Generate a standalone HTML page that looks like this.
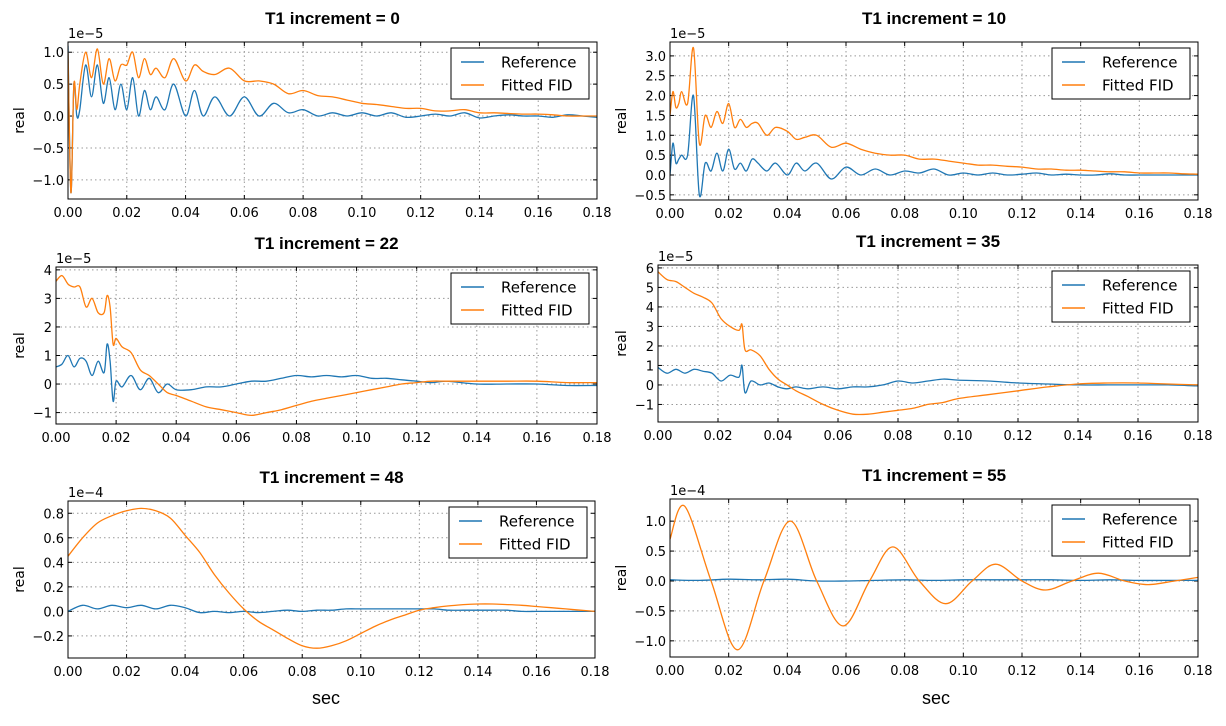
<!DOCTYPE html>
<html><head><meta charset="utf-8">
<style>
html,body{margin:0;padding:0;background:#fff;}
svg{display:block;font-family:"Liberation Sans","DejaVu Sans",sans-serif;}
.tk{font-family:"DejaVu Sans","Liberation Sans",sans-serif;}
</style></head>
<body>
<svg id="fig" width="1226" height="726" viewBox="0 0 1226 726" xmlns="http://www.w3.org/2000/svg">
<text x="326" y="704" font-size="18" text-anchor="middle" fill="#000">sec</text>
<text x="936" y="704" font-size="18" text-anchor="middle" fill="#000">sec</text>
</svg>
<script>
// ---- data (values in units of the panel's exponent) ----
const xTicks = [0,0.02,0.04,0.06,0.08,0.10,0.12,0.14,0.16,0.18];
const xTickLabels = ["0.00","0.02","0.04","0.06","0.08","0.10","0.12","0.14","0.16","0.18"];

const p0X = [0,0.001,0.002,0.003,0.004,0.006,0.008,0.010,0.012,0.014,0.016,0.018,0.020,0.022,0.024,0.026,0.028,0.030,0.033,0.036,0.040,0.043,0.046,0.050,0.055,0.060,0.065,0.070,0.075,0.080,0.085,0.090,0.095,0.100,0.105,0.110,0.115,0.120,0.125,0.130,0.135,0.140,0.145,0.150,0.155,0.160,0.165,0.170,0.175,0.180];
const p0Ref = [1.1,-1.2,0.5,0.0,0.1,0.8,0.3,0.8,0.2,0.6,0.1,0.5,0.1,0.6,0.0,0.4,0.1,0.3,0.1,0.5,0.0,0.4,0.0,0.3,0.0,0.3,0.0,0.2,0.05,0.1,0.0,0.05,0.0,0.05,0.0,0.05,-0.02,0.0,0.03,0.0,0.05,-0.03,0.0,0.02,0.0,0.0,-0.02,0.02,0.0,-0.02];
const p0Fit = [1.0,-1.2,0.5,0.1,0.5,1.0,0.6,1.05,0.5,0.9,0.55,0.8,0.8,1.0,0.6,0.9,0.65,0.75,0.6,0.9,0.55,0.8,0.7,0.65,0.75,0.55,0.55,0.5,0.35,0.4,0.32,0.3,0.25,0.2,0.18,0.15,0.12,0.12,0.08,0.08,0.1,0.05,0.05,0.04,0.03,0.03,0.02,0.0,0.0,0.0];
const p0YTicks = [-1.0,-0.5,0.0,0.5,1.0];

const p1X = p0X;
const p1Ref = [0.0,0.8,0.3,0.4,0.5,0.5,2.0,-0.5,0.3,0.1,0.55,0.1,0.65,0.15,0.3,0.1,0.4,0.3,0.1,0.3,0.0,0.3,0.1,0.3,-0.1,0.2,0.0,0.15,0.0,0.1,0.05,0.15,0.0,0.05,0.0,0.05,0.0,0.02,0.05,0.0,0.02,0.0,0.0,0.03,0.0,0.0,0.0,0.0,0.0,0.0];
const p1Fit = [1.5,2.1,1.7,1.8,2.1,1.8,3.2,0.8,1.5,1.2,1.6,1.3,1.8,1.2,1.4,1.2,1.3,1.3,1.0,1.2,1.1,0.9,0.95,1.0,0.7,0.8,0.65,0.55,0.5,0.5,0.4,0.4,0.35,0.3,0.25,0.25,0.22,0.2,0.15,0.15,0.12,0.12,0.1,0.08,0.08,0.05,0.05,0.05,0.03,0.02];
const p1YTicks = [-0.5,0.0,0.5,1.0,1.5,2.0,2.5,3.0];

const p2X = [0,0.002,0.004,0.006,0.008,0.010,0.012,0.014,0.016,0.017,0.018,0.019,0.020,0.022,0.025,0.028,0.031,0.034,0.037,0.040,0.045,0.050,0.055,0.060,0.065,0.070,0.075,0.080,0.085,0.090,0.095,0.100,0.105,0.110,0.115,0.120,0.125,0.130,0.140,0.150,0.160,0.170,0.180];
const p2Ref = [0.6,0.7,1.0,0.6,0.9,0.8,0.3,0.8,0.4,1.4,0.8,-0.6,0.1,-0.1,0.3,-0.2,0.2,-0.3,0.0,-0.2,-0.2,-0.1,-0.1,0.0,0.1,0.1,0.2,0.3,0.25,0.3,0.25,0.3,0.2,0.2,0.15,0.1,0.05,0.1,0.0,0.0,0.0,-0.05,-0.05];
const p2Fit = [3.6,3.8,3.5,3.4,3.4,2.7,3.0,2.5,2.5,3.1,2.7,1.4,1.6,1.3,1.1,0.5,0.3,0.0,-0.3,-0.4,-0.6,-0.8,-0.9,-1.0,-1.1,-1.0,-0.9,-0.75,-0.6,-0.5,-0.4,-0.3,-0.2,-0.1,0.0,0.05,0.1,0.1,0.1,0.1,0.1,0.05,0.05];
const p2YTicks = [-1,0,1,2,3,4];

const p3X = [0,0.003,0.006,0.009,0.012,0.015,0.018,0.021,0.024,0.027,0.028,0.029,0.031,0.034,0.037,0.040,0.043,0.046,0.050,0.055,0.060,0.065,0.070,0.075,0.080,0.085,0.090,0.095,0.100,0.110,0.120,0.130,0.140,0.150,0.160,0.170,0.180];
const p3Ref = [0.9,0.6,0.8,0.6,0.8,0.7,0.6,0.2,0.5,0.4,1.0,-0.4,0.2,0.0,0.1,-0.1,-0.2,-0.1,-0.2,-0.1,-0.2,-0.1,-0.1,0.0,0.2,0.1,0.2,0.3,0.25,0.2,0.1,0.05,0.0,0.0,0.0,0.0,-0.05];
const p3Fit = [5.8,5.4,5.3,5.0,4.7,4.5,4.2,3.4,3.0,2.8,3.1,1.8,1.8,1.5,0.8,0.3,0.0,-0.3,-0.6,-1.0,-1.3,-1.5,-1.5,-1.4,-1.3,-1.2,-1.0,-0.9,-0.7,-0.5,-0.3,-0.1,0.05,0.1,0.1,0.05,0.0];
const p3YTicks = [-1,0,1,2,3,4,5,6];

const p4X = [0,0.005,0.010,0.015,0.020,0.025,0.030,0.035,0.040,0.045,0.050,0.055,0.060,0.065,0.070,0.075,0.080,0.085,0.090,0.095,0.100,0.105,0.110,0.115,0.120,0.125,0.130,0.135,0.140,0.145,0.150,0.155,0.160,0.165,0.170,0.175,0.180];
const p4Ref = [0.0,0.05,0.02,0.05,0.03,0.05,0.02,0.05,0.03,-0.01,0.0,-0.01,0.0,-0.01,0.0,0.01,0.0,0.01,0.01,0.02,0.02,0.02,0.02,0.02,0.02,0.02,0.01,0.01,0.01,0.01,0.01,0.0,0.0,0.0,0.0,0.0,0.0];
const p4Fit = [0.45,0.6,0.72,0.78,0.82,0.84,0.82,0.76,0.62,0.48,0.3,0.15,0.02,-0.08,-0.15,-0.22,-0.28,-0.3,-0.28,-0.24,-0.18,-0.12,-0.07,-0.03,0.01,0.03,0.045,0.055,0.06,0.06,0.055,0.05,0.04,0.03,0.02,0.01,0.0];
const p4YTicks = [-0.2,0.0,0.2,0.4,0.6,0.8];

const p5FitX = [0,0.005,0.014,0.023,0.032,0.041,0.050,0.059,0.068,0.076,0.085,0.094,0.103,0.111,0.120,0.128,0.137,0.146,0.155,0.163,0.172,0.180];
const p5Fit = [0.7,1.25,0,-1.15,0,1.0,0,-0.75,0,0.57,0,-0.38,0,0.28,0,-0.15,0,0.13,0,-0.06,0,0.06];
const p5RefX = [0,0.01,0.02,0.03,0.04,0.05,0.06,0.07,0.08,0.09,0.10,0.11,0.12,0.13,0.14,0.15,0.16,0.17,0.18];
const p5Ref = [0.02,0.01,0.03,0.02,0.03,0.0,0.0,0.01,0.02,0.01,0.02,0.02,0.02,0.02,0.01,0.02,0.01,0.01,0.01];
const p5YTicks = [-1.0,-0.5,0.0,0.5,1.0];

const panels = [
 {name:"t1-0", title:"T1 increment = 0", exp:"1e\u22125", L:68,R:597,T:42,B:199, y0:-1.3,y1:1.16, yt:p0YTicks, dec:1, refX:p0X, ref:p0Ref, fitX:p0X, fit:p0Fit},
 {name:"t1-10", title:"T1 increment = 10", exp:"1e\u22125", L:670,R:1198,T:42,B:200, y0:-0.63,y1:3.35, yt:p1YTicks, dec:1, refX:p1X, ref:p1Ref, fitX:p1X, fit:p1Fit},
 {name:"t1-22", title:"T1 increment = 22", exp:"1e\u22125", L:56,R:597,T:267,B:424, y0:-1.4,y1:4.1, yt:p2YTicks, dec:0, refX:p2X, ref:p2Ref, fitX:p2X, fit:p2Fit},
 {name:"t1-35", title:"T1 increment = 35", exp:"1e\u22125", L:658,R:1198,T:265,B:422, y0:-1.9,y1:6.15, yt:p3YTicks, dec:0, refX:p3X, ref:p3Ref, fitX:p3X, fit:p3Fit},
 {name:"t1-48", title:"T1 increment = 48", exp:"1e\u22124", L:68,R:595,T:501,B:658, y0:-0.38,y1:0.9, yt:p4YTicks, dec:1, refX:p4X, ref:p4Ref, fitX:p4X, fit:p4Fit},
 {name:"t1-55", title:"T1 increment = 55", exp:"1e\u22124", L:670,R:1198,T:499,B:657, y0:-1.27,y1:1.37, yt:p5YTicks, dec:1, refX:p5RefX, ref:p5Ref, fitX:p5FitX, fit:p5Fit}
];

const NS="http://www.w3.org/2000/svg";
const svg=document.getElementById('fig');
function mk(tag,attrs,parent){const e=document.createElementNS(NS,tag);for(const k in attrs)e.setAttribute(k,attrs[k]);(parent||svg).appendChild(e);return e;}
function fmtNeg(s){return s.replace('-','\u2212');}

function pathFrom(pts){
  let d='M'+pts[0][0].toFixed(1)+','+pts[0][1].toFixed(1);
  for(let i=0;i<pts.length-1;i++){
    const p0=pts[Math.max(0,i-1)],p1=pts[i],p2=pts[i+1],p3=pts[Math.min(pts.length-1,i+2)];
    const c1=[p1[0]+(p2[0]-p0[0])/6,p1[1]+(p2[1]-p0[1])/6];
    const c2=[p2[0]-(p3[0]-p1[0])/6,p2[1]-(p3[1]-p1[1])/6];
    d+='C'+c1[0].toFixed(1)+','+c1[1].toFixed(1)+' '+c2[0].toFixed(1)+','+c2[1].toFixed(1)+' '+p2[0].toFixed(1)+','+p2[1].toFixed(1);
  }
  return d;
}

panels.forEach(p=>{
  const g=mk('g',{});
  
  
  const xs=v=>p.L+(v-0)/(0.18-0)*(p.R-p.L);
  const ys=v=>p.B-(v-p.y0)/(p.y1-p.y0)*(p.B-p.T);
  mk('rect',{x:p.L,y:p.T,width:p.R-p.L,height:p.B-p.T,fill:'#fff'},g);
  xTicks.forEach((t,i)=>{
    const x=xs(t);
    if(i>0&&i<xTicks.length-1){const l=mk('line',{x1:x,x2:x,y1:p.T,y2:p.B,stroke:'#999','stroke-width':1,'stroke-dasharray':'1.5,3'},g);
      
      }
    mk('line',{x1:x,x2:x,y1:p.B,y2:p.B-4,stroke:'#000'},g);
    mk('line',{x1:x,x2:x,y1:p.T,y2:p.T+4,stroke:'#000'},g);
    const tx=mk('text',{x:x,y:p.B+18,'font-size':13,'text-anchor':'middle',fill:'#000','class':'tk'},g);
    tx.textContent=xTickLabels[i];
    
    
  });
  p.yt.forEach(t=>{
    const y=ys(t);
    const l=mk('line',{x1:p.L,x2:p.R,y1:y,y2:y,stroke:'#999','stroke-width':1,'stroke-dasharray':'1.5,3'},g);
    
    
    mk('line',{x1:p.L,x2:p.L+4,y1:y,y2:y,stroke:'#000'},g);
    mk('line',{x1:p.R,x2:p.R-4,y1:y,y2:y,stroke:'#000'},g);
    const tx=mk('text',{x:p.L-4,y:y+5,'font-size':13,'text-anchor':'end',fill:'#000','class':'tk'},g);
    tx.textContent=fmtNeg(t.toFixed(p.dec));
    
    
  });
  const clipId='clip-'+p.name;
  const cp=mk('clipPath',{id:clipId},g);
  mk('rect',{x:p.L,y:p.T,width:p.R-p.L,height:p.B-p.T},cp);
  const refPts=p.refX.slice(0,p.ref.length).map((x,i)=>[xs(x),ys(p.ref[i])]);
  const fitPts=p.fitX.slice(0,p.fit.length).map((x,i)=>[xs(x),ys(p.fit[i])]);
  const rl=mk('path',{d:pathFrom(refPts),fill:'none',stroke:'#1f77b4','stroke-width':1.3,'clip-path':'url(#'+clipId+')'},g);
  
  
  const fl=mk('path',{d:pathFrom(fitPts),fill:'none',stroke:'#ff7f0e','stroke-width':1.3,'clip-path':'url(#'+clipId+')'},g);
  
  
  mk('rect',{x:p.L,y:p.T,width:p.R-p.L,height:p.B-p.T,fill:'none',stroke:'#000','stroke-width':1},g);
  const ti=mk('text',{x:(p.L+p.R)/2,y:p.T-18,'font-size':17,'font-weight':'bold','text-anchor':'middle',fill:'#000'},g);
  ti.textContent=p.title;
  
  
  const ex=mk('text',{x:p.L,y:p.T-4,'font-size':13,fill:'#000','class':'tk'},g);
  ex.textContent=p.exp;
  
  
  const yl=mk('text',{x:0,y:0,'font-size':14,'text-anchor':'middle',fill:'#000','class':'tk',transform:'translate('+(p.L<100?24:626)+','+((p.T+p.B)/2)+') rotate(-90)'},g);
  yl.textContent='real';
  
  
  const lg=mk('g',{},g);
  
  
  const lw=138,lh=51,lx=p.R-8-lw,ly=p.T+6;
  mk('rect',{x:lx,y:ly,width:lw,height:lh,fill:'#fff',stroke:'#000','stroke-width':1},lg);
  [['Reference','#1f77b4'],['Fitted FID','#ff7f0e']].forEach((e,i)=>{
    const yy=ly+14+i*23;
    const ent=mk('g',{},lg);
    
    
    mk('line',{x1:lx+10,x2:lx+33,y1:yy,y2:yy,stroke:e[1],'stroke-width':1.5},ent);
    const t=mk('text',{x:lx+50,y:yy+5.5,'font-size':15,fill:'#000','class':'tk'},ent);
    t.textContent=e[0];
  });
});
</script>
</body></html>
